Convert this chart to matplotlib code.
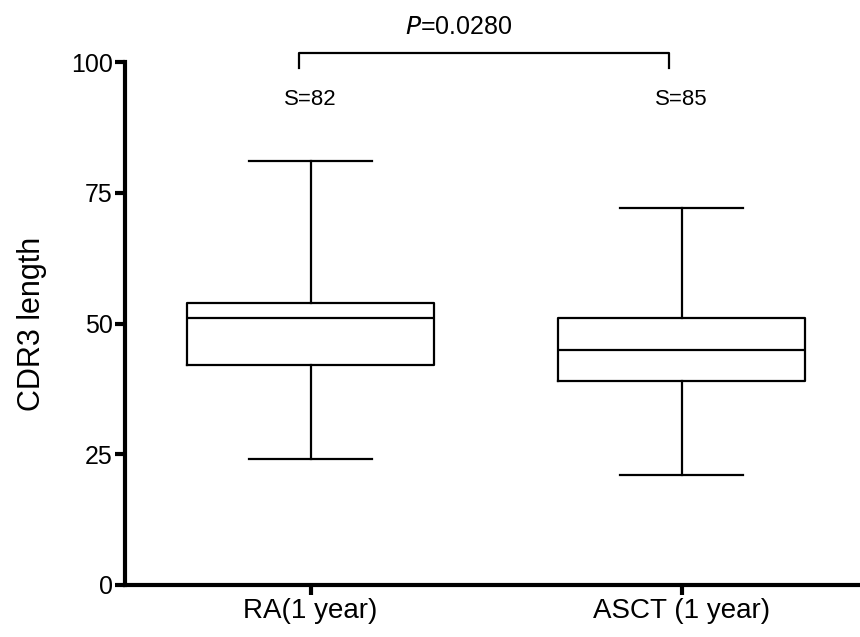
import matplotlib
matplotlib.use("Agg")
import matplotlib.pyplot as plt

# Box-plot summary statistics for CDR3 length per group
groups = ["RA(1 year)", "ASCT (1 year)"]
whisker_low = [24, 21]
q1 = [42, 39]
median = [51, 45]
q3 = [54, 51]
whisker_high = [81, 72]
s_labels = ["S=82", "S=85"]
p_text = "0.0280"
y_ticks = [0, 25, 50, 75, 100]

plt.rcParams["font.family"] = ["Liberation Sans", "DejaVu Sans"]

fig = plt.figure(figsize=(8.6, 6.37), dpi=100)
ax = fig.add_axes([125 / 860, 1 - 585 / 637, (858 - 125) / 860, (585 - 62) / 637])

stats = []
for i in range(len(groups)):
    stats.append(dict(med=median[i], q1=q1[i], q3=q3[i],
                      whislo=whisker_low[i], whishi=whisker_high[i],
                      fliers=[], label=groups[i]))

positions = [1, 2]
line = dict(color="black", linewidth=1.6)
ax.bxp(stats, positions=positions, widths=0.667, showfliers=False,
       boxprops=line, medianprops=line, whiskerprops=line,
       capprops=line, capwidths=0.33)

ax.set_xlim(0.5, 2.475)
ax.set_ylim(0, 100)
ax.set_yticks(y_ticks)
ax.set_yticklabels([str(t) for t in y_ticks], fontsize=18)
ax.set_xticks(positions)
ax.set_xticklabels(groups, fontsize=20)

for side in ["top", "right"]:
    ax.spines[side].set_visible(False)
for side in ["left", "bottom"]:
    ax.spines[side].set_linewidth(3)
ax.tick_params(axis="both", direction="out", length=7, width=3, pad=2)
ax.set_ylabel("CDR3 length", fontsize=22, labelpad=17)

# Sample-size annotations
for x, s in zip(positions, s_labels):
    ax.text(x, 92.8, s, ha="center", va="center", fontsize=16)

# Significance bracket
ax.plot([0.97, 0.97, 1.965, 1.965], [98.9, 101.7, 101.7, 98.9],
        color="black", linewidth=1.6, clip_on=False)
ax.text(1.4, 106.6, r"$\it{P}$=" + p_text, ha="center", va="center",
        fontsize=18)

fig.savefig("out.png", dpi=100)
